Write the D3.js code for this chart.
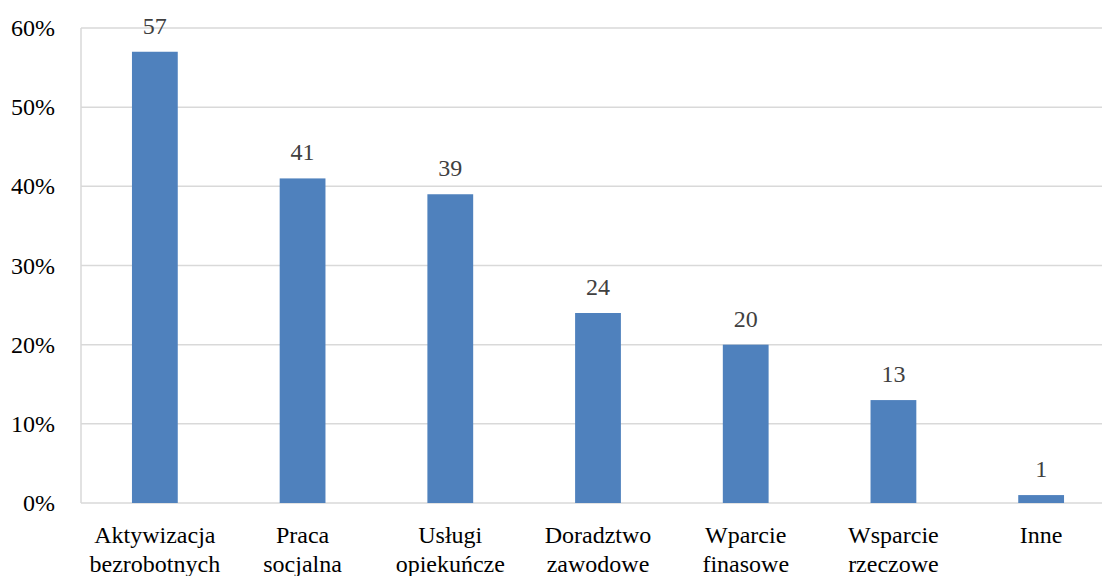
<!DOCTYPE html>
<html>
<head>
<meta charset="utf-8">
<script src="https://cdn.jsdelivr.net/npm/d3@7"></script>
<style>
  body{margin:0;background:#fff;overflow:hidden;}
  svg{display:block;}
  svg text{font-family:"Liberation Serif","Times New Roman",Times,"Tinos","DejaVu Serif",serif;font-size:24px;}
</style>
</head>
<body>
<svg id="chart"></svg>
<script>
// dane wykresu
const categories = [
  ["Aktywizacja","bezrobotnych"],
  ["Praca","socjalna"],
  ["Usługi","opiekuńcze"],
  ["Doradztwo","zawodowe"],
  ["Wparcie","finasowe"],
  ["Wsparcie","rzeczowe"],
  ["Inne"]
];
const values = [57, 41, 39, 24, 20, 13, 1];
const yTicks = [0, 10, 20, 30, 40, 50, 60];

const width = 1102, height = 576;
const MARGIN = {TOP:28, LEFT:81, BOTTOM:73};
// obszar wykresu wychodzi nieco poza prawą krawędź
const plotRight = 1115;

const svg = d3.select("#chart").attr("width", width).attr("height", height);

const xScale = d3.scaleBand()
  .domain(categories.map((d,i)=>i))
  .range([MARGIN.LEFT, plotRight])
  .paddingInner(0.69).paddingOuter(0.345);
const yScale = d3.scaleLinear().domain([0,60]).range([height-MARGIN.BOTTOM, MARGIN.TOP]);

// linie siatki
svg.append("g")
  .selectAll("line")
  .data(yTicks)
  .join("line")
  .attr("x1", MARGIN.LEFT).attr("x2", plotRight)
  .attr("y1", d=>yScale(d)).attr("y2", d=>yScale(d))
  .attr("stroke", "#d9d9d9").attr("stroke-width", 1.5);

// oś pionowa
svg.append("line")
  .attr("x1", MARGIN.LEFT).attr("x2", MARGIN.LEFT)
  .attr("y1", yScale(60)).attr("y2", yScale(0))
  .attr("stroke", "#d9d9d9").attr("stroke-width", 1.5);

// etykiety osi Y
svg.append("g")
  .selectAll("text")
  .data(yTicks)
  .join("text")
  .attr("x", 55).attr("y", d=>yScale(d))
  .attr("dy", "0.34em")
  .attr("text-anchor", "end")
  .attr("fill", "#000")
  .text(d=>d+"%");

// słupki
svg.append("g")
  .selectAll("rect")
  .data(values)
  .join("rect")
  .attr("x", (d,i)=>xScale(i))
  .attr("width", xScale.bandwidth())
  .attr("y", d=>yScale(d))
  .attr("height", d=>yScale(0)-yScale(d))
  .attr("fill", "#4f81bd");

// etykiety wartości
svg.append("g")
  .selectAll("text")
  .data(values)
  .join("text")
  .attr("x", (d,i)=>xScale(i)+xScale.bandwidth()/2)
  .attr("y", d=>yScale(d)-18)
  .attr("text-anchor", "middle")
  .attr("fill", "#404040")
  .text(d=>d);

// etykiety kategorii
const cat = svg.append("g")
  .selectAll("text")
  .data(categories)
  .join("text")
  .attr("x", (d,i)=>xScale(i)+xScale.bandwidth()/2)
  .attr("y", 543)
  .attr("text-anchor", "middle")
  .attr("fill", "#000");
cat.selectAll("tspan")
  .data(d=>d)
  .join("tspan")
  .attr("x", function(){ return d3.select(this.parentNode).attr("x"); })
  .attr("dy", (d,i)=>i===0 ? 0 : 29)
  .text(d=>d);
</script>
</body>
</html>
